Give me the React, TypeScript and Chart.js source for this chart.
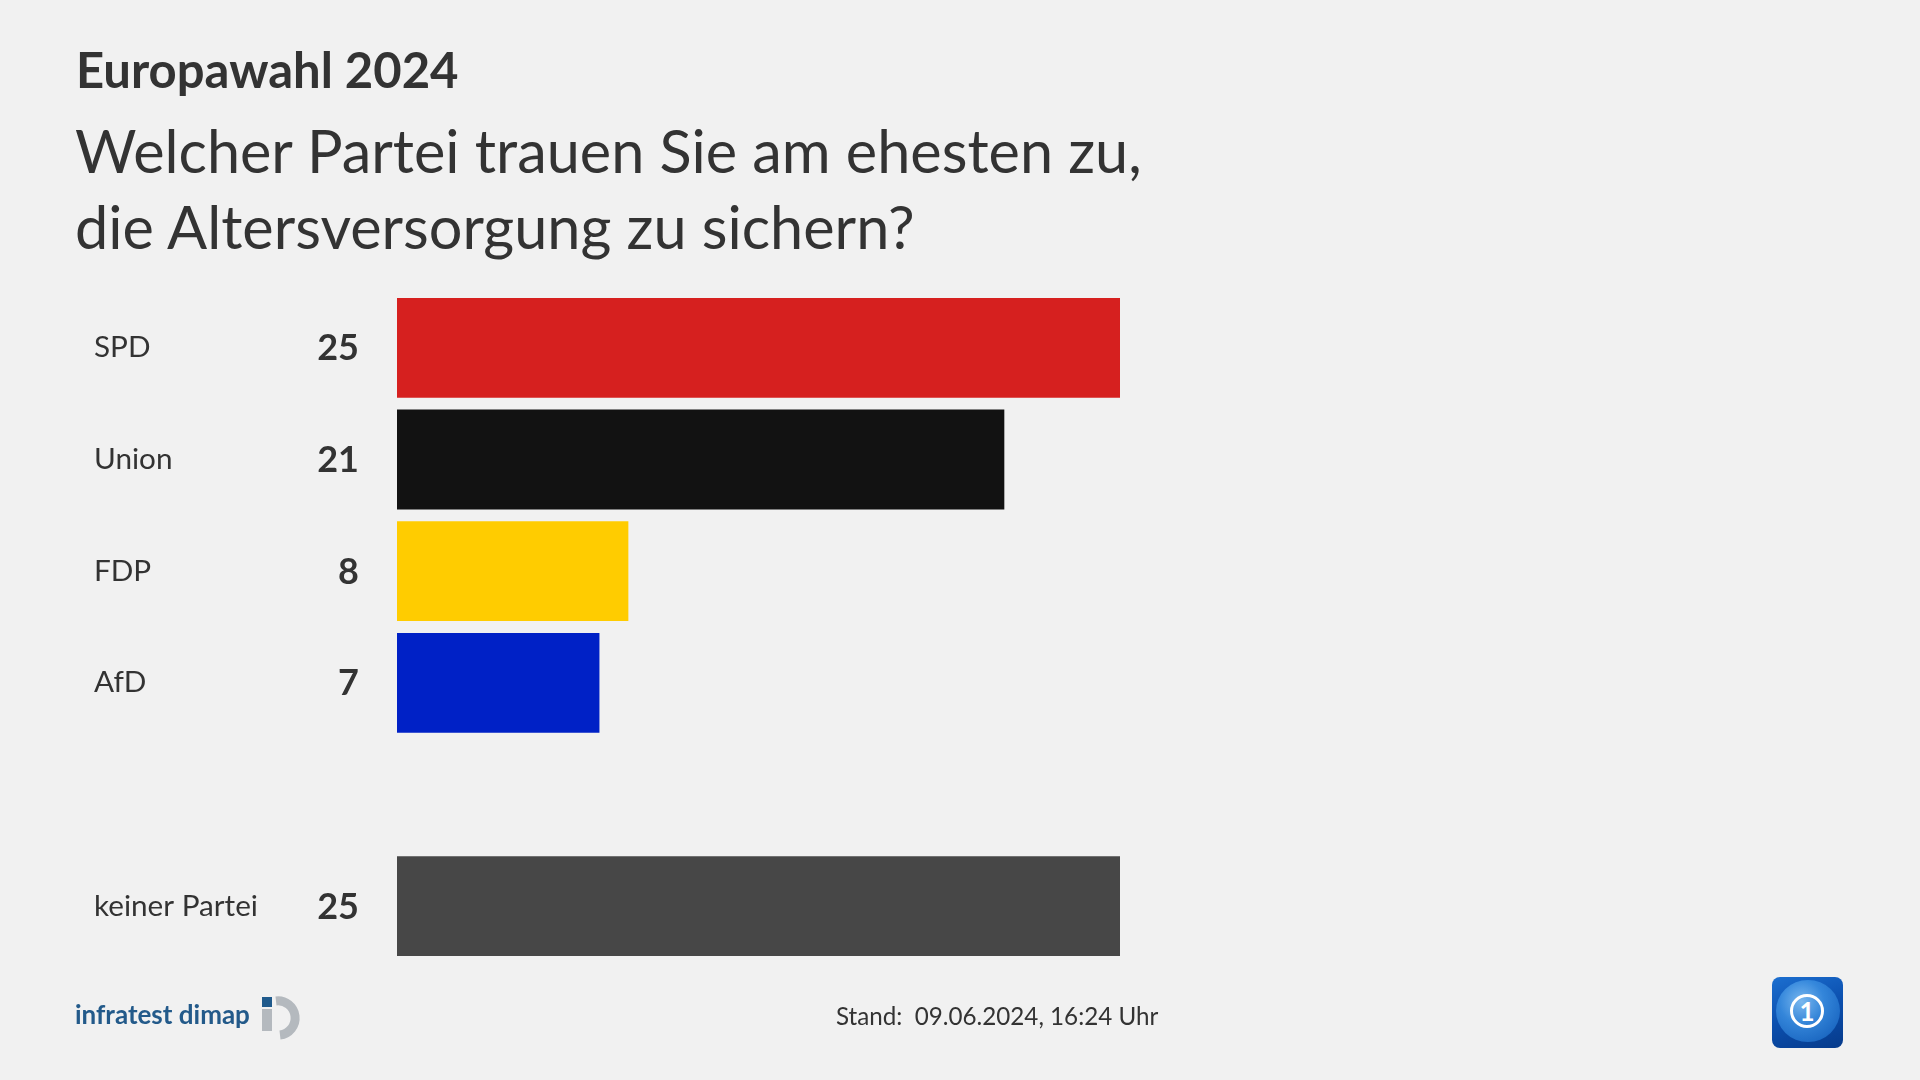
import React, { useEffect, useRef } from "react";
import { Chart, registerables } from "chart.js";

Chart.register(...registerables);

const categories = ["SPD", "Union", "FDP", "AfD", "", "keiner Partei"];
const values = [25, 21, 8, 7, null, 25];
const valueLabels = ["25", "21", "8", "7", "", "25"];
const barColors = ["#d6201f", "#121212", "#ffcc00", "#0021c6", "rgba(0,0,0,0)", "#474747"];
const axisMax = 25;

const TEXT = "#333333";
const BG = "#f1f1f1";

const valuePlugin = {
  id: "valueLabels",
  afterDraw(chart: any) {
    const ctx = chart.ctx;
    const y = chart.scales.y;
    ctx.save();
    ctx.font = "bold 36px Lato";
    ctx.fillStyle = TEXT;
    ctx.textAlign = "right";
    ctx.textBaseline = "middle";
    valueLabels.forEach((t, i) => {
      if (t) ctx.fillText(t, y.right - 38, y.getPixelForValue(i) + 1);
    });
    ctx.restore();
  },
};

export default function App() {
  const ref = useRef<HTMLCanvasElement | null>(null);

  useEffect(() => {
    if (!ref.current) return;
    const chart = new Chart(ref.current, {
      type: "bar",
      data: {
        labels: categories,
        datasets: [
          {
            data: values as any,
            backgroundColor: barColors,
            borderWidth: 0,
            barPercentage: 0.894,
            categoryPercentage: 1,
          },
        ],
      },
      options: {
        indexAxis: "y",
        animation: false,
        responsive: false,
        maintainAspectRatio: false,
        layout: { padding: { left: 94, top: 292, bottom: 118, right: 800 } },
        plugins: { legend: { display: false }, tooltip: { enabled: false } },
        scales: {
          x: { display: false, min: 0, max: axisMax },
          y: {
            grid: { display: false },
            border: { display: false },
            afterFit(scale: any) {
              scale.width = 303;
            },
            ticks: {
              crossAlign: "far",
              color: TEXT,
              font: { family: "Lato", size: 29.7 },
            },
          },
        },
      },
      plugins: [valuePlugin],
    });
    return () => chart.destroy();
  }, []);

  return (
    <div
      style={{
        position: "fixed",
        left: 0,
        top: 0,
        width: 1920,
        height: 1080,
        background: BG,
        overflow: "hidden",
        fontFamily: "Lato, sans-serif",
        color: TEXT,
      }}
    >
      <div
        style={{
          position: "absolute",
          left: 76,
          top: 40,
          fontSize: 49,
          lineHeight: "58px",
          fontWeight: 700,
          whiteSpace: "nowrap",
        }}
      >
        Europawahl 2024
      </div>
      <div
        style={{
          position: "absolute",
          left: 75,
          top: 112,
          fontSize: 59.4,
          lineHeight: "76px",
          whiteSpace: "nowrap",
        }}
      >
        Welcher Partei trauen Sie am ehesten zu,
        <br />
        die Altersversorgung zu sichern?
      </div>
      <canvas
        ref={ref}
        width={1920}
        height={1080}
        style={{ position: "absolute", left: 0, top: 0, width: 1920, height: 1080 }}
      />
      <div
        style={{
          position: "absolute",
          left: 75,
          top: 998,
          fontSize: 26,
          lineHeight: "32px",
          fontWeight: 700,
          color: "#235a8a",
          whiteSpace: "nowrap",
        }}
      >
        infratest dimap
      </div>
      <svg
        style={{ position: "absolute", left: 258, top: 992 }}
        width={52}
        height={50}
        viewBox="0 0 52 50"
      >
        <rect x={4} y={5} width={10} height={10} fill="#1f5a8c" />
        <rect x={4} y={17} width={10} height={22} fill="#b4b9be" />
        <path
          d="M 18 9 A 17 17 0 1 1 22 43"
          fill="none"
          stroke="#b4b9be"
          strokeWidth={9}
        />
      </svg>
      <div
        style={{
          position: "absolute",
          left: 836,
          top: 1000,
          fontSize: 24.2,
          lineHeight: "32px",
          whiteSpace: "pre",
          color: TEXT,
        }}
      >
        {"Stand:  09.06.2024, 16:24 Uhr"}
      </div>
      <div
        style={{
          position: "absolute",
          left: 1772,
          top: 977,
          width: 71,
          height: 71,
          borderRadius: 8,
          overflow: "hidden",
          background: "linear-gradient(160deg, #1c6fd0 0%, #0b4fae 50%, #063a8a 100%)",
        }}
      >
        <div
          style={{
            position: "absolute",
            left: 4,
            top: 3,
            width: 64,
            height: 62,
            borderRadius: "50%",
            background: "radial-gradient(circle at 40% 35%, #8cc8f8 0%, #3a8ee0 40%, #0f5cbc 100%)",
            opacity: 0.85,
          }}
        />
        <div
          style={{
            position: "absolute",
            left: 18,
            top: 17,
            width: 34,
            height: 34,
            borderRadius: "50%",
            border: "3px solid #ffffff",
            boxSizing: "border-box",
          }}
        />
        <div
          style={{
            position: "absolute",
            left: 18,
            top: 17,
            width: 34,
            height: 34,
            textAlign: "center",
            lineHeight: "34px",
            fontSize: 26,
            fontWeight: 700,
            color: "#ffffff",
          }}
        >
          1
        </div>
      </div>
    </div>
  );
}
